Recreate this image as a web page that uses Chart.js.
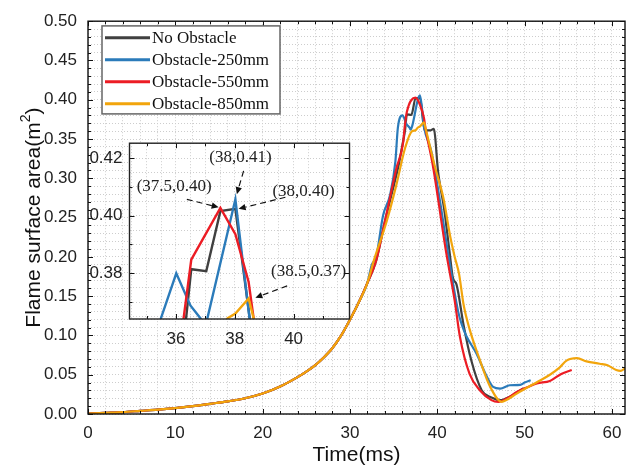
<!DOCTYPE html>
<html><head><meta charset="utf-8">
<script src="https://cdn.jsdelivr.net/npm/chart.js@4.4.1/dist/chart.umd.min.js"></script>
<style>
html,body{margin:0;padding:0;background:#fff;}
#wrap{position:relative;width:635px;height:468px;overflow:hidden;}
#main{position:absolute;left:0;top:0;}
#inset{position:absolute;left:80px;top:126px;}
</style></head><body>
<div id="wrap"><canvas id="main" width="635" height="468"></canvas><canvas id="inset" width="280" height="230"></canvas></div>
<script>
// ---------------- data ----------------
const seriesLabels = ['No Obstacle', 'Obstacle-250mm', 'Obstacle-550mm', 'Obstacle-850mm'];
const seriesColors = ['#404040', '#2b7bba', '#ec1c24', '#f2a50c'];

// shared early growth (all four cases coincide)
const riseT = [0, 2, 4, 6, 8, 10, 12, 14, 16, 18, 20, 22, 24, 25, 26, 27, 28, 29, 30, 31, 32];
const riseY = [0.0005, 0.0015, 0.0025, 0.004, 0.0055, 0.0075, 0.010, 0.013, 0.016, 0.020, 0.026, 0.035, 0.047, 0.054, 0.062, 0.072, 0.084, 0.100, 0.120, 0.142, 0.167];

const noObstacleT = [33, 34, 35, 35.6, 36, 36.32, 36.52, 37.03, 37.51, 38.02, 38.55, 39.2, 39.6, 40.1, 40.8, 41.4, 41.8, 42.2, 43.0, 43.9, 45.1, 46.2, 47.2, 48.3, 49.2, 49.9];
const noObstacleY = [0.195, 0.245, 0.29, 0.318, 0.342, 0.362, 0.3814, 0.3807, 0.4016, 0.4024, 0.361, 0.361, 0.363, 0.308, 0.26, 0.207, 0.173, 0.165, 0.114, 0.068, 0.030, 0.021, 0.0177, 0.022, 0.028, 0.033];

const obs250T = [32.5, 33, 33.8, 34.6, 35.2, 35.49, 36.01, 36.49, 36.83, 36.95, 37.07, 38.02, 38.5, 39.3, 40.4, 41.3, 41.9, 42.4, 42.8, 43.3, 44.5, 45.7, 46.4, 47.2, 48.3, 49.5, 50.0, 50.7];
const obs250Y = [0.19, 0.2, 0.253, 0.279, 0.321, 0.3644, 0.380, 0.3688, 0.3644, 0.362, 0.3644, 0.4057, 0.3644, 0.335, 0.265, 0.2, 0.16, 0.13, 0.114, 0.1, 0.0766, 0.047, 0.0345, 0.0324, 0.0366, 0.037, 0.04, 0.043];

const obs550T = [33, 34, 35.3, 36.1, 36.26, 36.52, 37.51, 38.02, 38.47, 38.64, 39.5, 41.0, 42.0, 42.6, 43.7, 44.9, 46.2, 47.0, 48.0, 49.1, 50.3, 51.4, 52.9, 54.2, 55.4];
const obs550Y = [0.195, 0.245, 0.312, 0.346, 0.3644, 0.3847, 0.4027, 0.3936, 0.377, 0.3644, 0.316, 0.207, 0.144, 0.098, 0.051, 0.030, 0.0177, 0.0155, 0.02, 0.028, 0.034, 0.039, 0.042, 0.051, 0.056];

const obs850T = [32.7, 34.2, 35.3, 36.3, 37.1, 37.5, 37.76, 38.02, 38.47, 38.64, 39.7, 40.7, 41.5, 42.0, 42.5, 43.0, 43.7, 44.9, 46.0, 47.4, 47.9, 49.1, 50.2, 51.5, 52.9, 54.0, 54.8, 56.0, 57.1, 58.6, 59.5, 60.5, 61.0, 61.5];
const obs850Y = [0.194, 0.245, 0.291, 0.338, 0.360, 0.361, 0.3644, 0.366, 0.3712, 0.3644, 0.316, 0.275, 0.225, 0.2, 0.178, 0.14, 0.108, 0.068, 0.036, 0.0155, 0.0177, 0.026, 0.033, 0.041, 0.05, 0.059, 0.068, 0.071, 0.067, 0.064, 0.062, 0.056, 0.055, 0.058];

const seriesT = [noObstacleT, obs250T, obs550T, obs850T];
const seriesY = [noObstacleY, obs250Y, obs550Y, obs850Y];

// tick labels and titles
const xTickLabels = [0, 10, 20, 30, 40, 50, 60];
const yTickLabels = ['0.00', '0.05', '0.10', '0.15', '0.20', '0.25', '0.30', '0.35', '0.40', '0.45', '0.50'];
const insetXTickLabels = [36, 38, 40];
const insetYTickLabels = ['0.38', '0.40', '0.42'];
const xTitle = 'Time(ms)';
const yTitleParts = ['Flame surface area(m', '2', ')'];

// inset annotations (data coordinates of the inset)
const annotLabels = ['(38,0.41)', '(37.5,0.40)', '(38,0.40)', '(38.5,0.37)'];
const annotTextX = [38.19, 35.94, 40.34, 40.51];
const annotTextY = [0.4203, 0.4101, 0.4084, 0.3807];
const annotFromX = [38.30, 36.37, 39.72, 39.78];
const annotFromY = [0.4156, 0.4057, 0.4064, 0.3756];
const annotToX = [38.07, 37.45, 38.13, 38.70];
const annotToY = [0.4075, 0.4029, 0.4024, 0.3715];

// ---------------- helpers ----------------
function buildPoints(i) {
  const pts = riseT.map((t, k) => ({x: t, y: riseY[k]}));
  seriesT[i].forEach((t, k) => pts.push({x: t, y: seriesY[i][k]}));
  return pts;
}
function makeDatasets(width, smooth) {
  const drawOrder = [3, 2, 1, 0];
  return seriesLabels.map((lab, i) => ({
    label: lab, data: buildPoints(i), borderColor: seriesColors[i], backgroundColor: seriesColors[i],
    borderWidth: width, pointRadius: 0, fill: false, order: drawOrder[i],
    cubicInterpolationMode: smooth ? 'monotone' : 'default', tension: 0
  }));
}
function rangeTicks(from, to, step, dec) {
  const out = [];
  const n = Math.round((to - from) / step);
  for (let i = 0; i <= n; i++) out.push({value: +(from + i * step).toFixed(dec)});
  return out;
}

const sans = '"Liberation Sans", Arial, sans-serif';
const gridColor = '#cdcdcd';

const frameTicks = {
  id: 'frameTicks',
  beforeDraw(chart, args, opts) {
    if (opts.fillArea) {
      const a = chart.chartArea, ctx = chart.ctx;
      ctx.save(); ctx.fillStyle = '#fff';
      ctx.fillRect(a.left, a.top, a.right - a.left, a.bottom - a.top);
      ctx.restore();
    }
  },
  afterDraw(chart, args, opts) {
    const {ctx, chartArea: a, scales: {x, y}} = chart;
    ctx.save();
    ctx.strokeStyle = '#111'; ctx.lineWidth = 1;
    x.ticks.forEach(t => {
      const kind = opts.xKind(t.value);
      if (!kind) return;
      const len = kind === 2 ? 5 : 3;
      const px = Math.round(x.getPixelForValue(t.value)) + 0.5;
      ctx.beginPath();
      ctx.moveTo(px, a.bottom); ctx.lineTo(px, a.bottom - len);
      ctx.moveTo(px, a.top); ctx.lineTo(px, a.top + len);
      ctx.stroke();
    });
    y.ticks.forEach(t => {
      const kind = opts.yKind(t.value);
      if (!kind) return;
      const len = kind === 2 ? 5 : 3;
      const py = Math.round(y.getPixelForValue(t.value)) + 0.5;
      ctx.beginPath();
      ctx.moveTo(a.left, py); ctx.lineTo(a.left + len, py);
      ctx.moveTo(a.right, py); ctx.lineTo(a.right - len, py);
      ctx.stroke();
    });
    ctx.strokeStyle = opts.frameColor; ctx.lineWidth = opts.frameWidth;
    ctx.strokeRect(a.left, a.top, a.right - a.left, a.bottom - a.top);
    ctx.restore();
  }
};

const yTitlePlugin = {
  id: 'yTitlePlugin',
  afterDraw(chart) {
    const {ctx, chartArea: a} = chart;
    const big = '21px ' + sans, small = '14px ' + sans;
    ctx.save();
    ctx.font = big; const w1 = ctx.measureText(yTitleParts[0]).width, w3 = ctx.measureText(yTitleParts[2]).width;
    ctx.font = small; const w2 = ctx.measureText(yTitleParts[1]).width;
    const W = w1 + w2 + w3;
    ctx.translate(34, (a.top + a.bottom) / 2);
    ctx.rotate(-Math.PI / 2);
    ctx.fillStyle = '#111'; ctx.textBaseline = 'middle'; ctx.textAlign = 'left';
    ctx.font = big; ctx.fillText(yTitleParts[0], -W / 2, 0);
    ctx.font = small; ctx.fillText(yTitleParts[1], -W / 2 + w1, -8);
    ctx.font = big; ctx.fillText(yTitleParts[2], -W / 2 + w1 + w2, 0);
    ctx.restore();
  }
};

const boxLegend = {
  id: 'boxLegend',
  afterDraw(chart) {
    const {ctx, chartArea: a} = chart;
    const bx = a.left + 14, by = a.top + 4.7, bw = 178, bh = 88;
    ctx.save();
    ctx.fillStyle = '#fff'; ctx.fillRect(bx, by, bw, bh);
    ctx.strokeStyle = '#666'; ctx.lineWidth = 1.5; ctx.strokeRect(bx, by, bw, bh);
    ctx.font = '17px "Liberation Serif", "Times New Roman", serif';
    ctx.textBaseline = 'middle'; ctx.textAlign = 'left';
    chart.data.datasets.forEach((ds, i) => {
      const yy = by + 11.8 + i * 22;
      ctx.strokeStyle = ds.borderColor; ctx.lineWidth = 3;
      ctx.beginPath(); ctx.moveTo(bx + 3, yy); ctx.lineTo(bx + 48, yy); ctx.stroke();
      ctx.fillStyle = '#111'; ctx.fillText(ds.label, bx + 50, yy + 1);
    });
    ctx.restore();
  }
};

const arrowNotes = {
  id: 'arrowNotes',
  afterDatasetsDraw(chart) {
    const {ctx, scales: {x, y}} = chart;
    ctx.save();
    ctx.font = '17px "Liberation Serif", "Times New Roman", serif';
    ctx.textAlign = 'center'; ctx.textBaseline = 'middle';
    annotLabels.forEach((lab, i) => {
      const x0 = x.getPixelForValue(annotFromX[i]), y0 = y.getPixelForValue(annotFromY[i]);
      const x1 = x.getPixelForValue(annotToX[i]), y1 = y.getPixelForValue(annotToY[i]);
      const ang = Math.atan2(y1 - y0, x1 - x0);
      const hl = 7, hw = 3.2;
      const bxp = x1 - hl * Math.cos(ang), byp = y1 - hl * Math.sin(ang);
      ctx.strokeStyle = '#111'; ctx.lineWidth = 1.2; ctx.setLineDash([6, 4]);
      ctx.beginPath(); ctx.moveTo(x0, y0); ctx.lineTo(bxp, byp); ctx.stroke();
      ctx.setLineDash([]);
      ctx.fillStyle = '#111';
      ctx.beginPath();
      ctx.moveTo(x1, y1);
      ctx.lineTo(bxp + hw * Math.sin(ang), byp - hw * Math.cos(ang));
      ctx.lineTo(bxp - hw * Math.sin(ang), byp + hw * Math.cos(ang));
      ctx.closePath(); ctx.fill();
      ctx.fillStyle = '#222';
      ctx.fillText(lab, x.getPixelForValue(annotTextX[i]), y.getPixelForValue(annotTextY[i]));
    });
    ctx.restore();
  }
};

// ---------------- main chart ----------------
new Chart(document.getElementById('main'), {
  type: 'line',
  data: {datasets: makeDatasets(2.2, true)},
  options: {
    responsive: false, animation: false, devicePixelRatio: 1,
    layout: {padding: {top: 18, right: 10, left: 0, bottom: 0}},
    plugins: {
      legend: {display: false}, tooltip: {enabled: false},
      frameTicks: {
        frameColor: '#111', frameWidth: 1.4,
        xKind: v => xTickLabels.includes(v) ? 2 : 1,
        yKind: v => yTickLabels.includes(v.toFixed(2)) ? 2 : 1
      }
    },
    scales: {
      x: {
        type: 'linear', min: 0, max: 61.5,
        afterBuildTicks: s => { s.ticks = rangeTicks(0, 60, 2, 0); },
        afterFit: s => { s.height = 54; },
        grid: {color: gridColor, lineWidth: 1, drawTicks: false},
        border: {display: false, dash: [1, 2]},
        ticks: {autoSkip: false, maxRotation: 0, padding: 9, color: '#222', font: {family: sans, size: 17},
          callback: v => xTickLabels.includes(v) ? String(v) : ''},
        title: {display: true, text: xTitle, color: '#111', font: {family: sans, size: 21}, padding: {top: 0, bottom: 0}}
      },
      y: {
        type: 'linear', min: 0, max: 0.5,
        afterBuildTicks: s => { s.ticks = rangeTicks(0, 0.5, 0.01, 2); },
        afterFit: s => { s.width = 88; },
        grid: {color: gridColor, lineWidth: 1, drawTicks: false},
        border: {display: false, dash: [1, 2]},
        ticks: {autoSkip: false, padding: 11, color: '#222', font: {family: sans, size: 17},
          callback: v => yTickLabels.includes(v.toFixed(2)) ? v.toFixed(2) : ''}
      }
    }
  },
  plugins: [frameTicks, boxLegend, yTitlePlugin]
});

// ---------------- inset chart ----------------
new Chart(document.getElementById('inset'), {
  type: 'line',
  data: {datasets: makeDatasets(2.4, false)},
  options: {
    responsive: false, animation: false, devicePixelRatio: 1,
    layout: {padding: {top: 8, right: 10.5, left: 0, bottom: 0}},
    plugins: {
      legend: {display: false}, tooltip: {enabled: false},
      frameTicks: {
        fillArea: true, frameColor: '#222', frameWidth: 1.4,
        xKind: v => insetXTickLabels.includes(v) ? 2 : (Number.isInteger(v) ? 1 : 0),
        yKind: v => Math.round(v * 1000) % 10 === 0 ? (insetYTickLabels.includes(v.toFixed(2)) ? 2 : 1) : 0
      }
    },
    scales: {
      x: {
        type: 'linear', min: 34.42, max: 41.9,
        afterBuildTicks: s => { s.ticks = rangeTicks(34.5, 41.5, 0.5, 1); },
        afterFit: s => { s.height = 37; },
        grid: {color: gridColor, lineWidth: 1, drawTicks: false},
        border: {display: false, dash: [1, 2]},
        ticks: {autoSkip: false, maxRotation: 0, padding: 10, color: '#222', font: {family: sans, size: 17},
          callback: v => insetXTickLabels.includes(v) ? String(v) : ''}
      },
      y: {
        type: 'linear', min: 0.3641, max: 0.4252,
        afterBuildTicks: s => { s.ticks = rangeTicks(0.365, 0.425, 0.005, 3); },
        afterFit: s => { s.width = 49.5; },
        grid: {color: gridColor, lineWidth: 1, drawTicks: false},
        border: {display: false, dash: [1, 2]},
        ticks: {autoSkip: false, padding: 7, color: '#222', font: {family: sans, size: 17},
          callback: v => (Math.round(v * 1000) % 10 === 0 && insetYTickLabels.includes(v.toFixed(2))) ? v.toFixed(2) : ''}
      }
    }
  },
  plugins: [frameTicks, arrowNotes]
});
</script>
</body></html>
